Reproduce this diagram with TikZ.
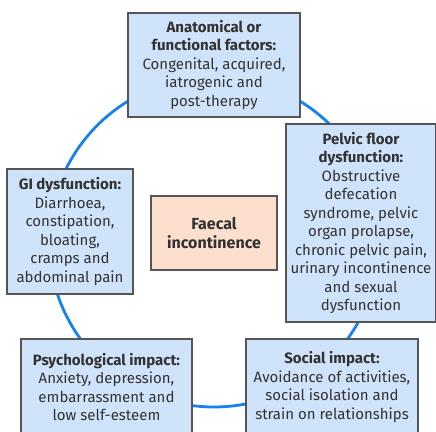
\documentclass[tikz,border=0pt]{standalone}
\usepackage{fontspec}
\setmainfont{Fira Sans}
\definecolor{boxfill}{RGB}{207,228,250}
\definecolor{boxline}{RGB}{85,85,85}
\definecolor{ringblue}{RGB}{22,130,240}
\definecolor{corefill}{RGB}{252,224,205}
\definecolor{txt}{RGB}{50,50,50}
\tikzset{
	factor/.style={draw=boxline, line width=1.2pt, fill=boxfill, text=txt, align=center, inner sep=0pt, font=\fontsize{15}{18.5}\selectfont},
	core/.style={factor, fill=corefill, font=\bfseries\fontsize{16}{19.5}\selectfont}
}
\begin{document}
\begin{tikzpicture}[x=1pt, y=-1pt]
			\clip (0,0) rectangle (436,431);
			\fill[white] (0,0) rectangle (436,431);
			\draw[ringblue, line width=2.8pt] (214,242) circle (165);
			\node[factor, minimum width=172pt, minimum height=104pt] (anat) at (214,65) {\textbf{Anatomical or}\\\textbf{functional factors:}\\Congenital, acquired,\\iatrogenic and\\post-therapy};
			\node[factor, minimum width=150pt, minimum height=198pt] (pelvic) at (361,223) {\textbf{Pelvic floor}\\\textbf{dysfunction:}\\Obstructive\\defecation\\syndrome, pelvic\\organ prolapse,\\chronic pelvic pain,\\urinary incontinence\\and sexual\\dysfunction};
			\node[factor, minimum width=126pt, minimum height=125pt] (gi) at (70,231.5) {\textbf{GI dysfunction:}\\Diarrhoea,\\constipation,\\bloating,\\cramps and\\abdominal pain};
			\node[factor, minimum width=171pt, minimum height=96pt] (psych) at (106.5,387) {\textbf{Psychological impact:}\\Anxiety, depression,\\embarrassment and\\low self-esteem};
			\node[factor, minimum width=172pt, minimum height=96pt] (social) at (332,387) {\textbf{Social impact:}\\Avoidance of activities,\\social isolation and\\strain on relationships};
			\node[core, minimum width=126pt, minimum height=74pt] (fi) at (214,233) {Faecal\\incontinence};
		\end{tikzpicture}
\end{document}
